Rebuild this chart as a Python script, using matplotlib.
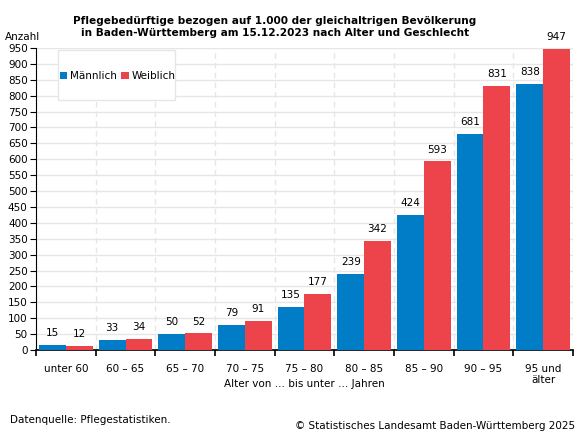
import matplotlib.pyplot as plt
from matplotlib.patches import Rectangle
import numpy as np

# Pflegebeduerftige je 1.000 der gleichaltrigen Bevoelkerung
categories = ['unter 60', '60 – 65', '65 – 70', '70 – 75', '75 – 80',
              '80 – 85', '85 – 90', '90 – 95', '95 und\nälter']
maennlich = [15, 33, 50, 79, 135, 239, 424, 681, 838]
weiblich = [12, 34, 52, 91, 177, 342, 593, 831, 947]

blue = '#007DC6'
red = '#EC444A'

plt.rcParams['font.family'] = ['DejaVu Sans']
plt.rcParams['font.size'] = 7.5

W, H = 581, 432
fig = plt.figure(figsize=(W / 100, H / 100), dpi=100)
ax = fig.add_axes([36 / W, (H - 350) / H, (573 - 36) / W, (350 - 48) / H])

x = np.arange(len(categories))
w = 0.45
b1 = ax.bar(x - w / 2, maennlich, w, color=blue, label='Männlich', zorder=3)
b2 = ax.bar(x + w / 2, weiblich, w, color=red, label='Weiblich', zorder=3)

for bars, vals in ((b1, maennlich), (b2, weiblich)):
    for rect, v in zip(bars, vals):
        ax.annotate(str(v), (rect.get_x() + rect.get_width() / 2, v),
                    xytext=(0, 5), textcoords='offset points',
                    ha='center', va='bottom', fontsize=7.5)

ax.set_xlim(-0.5, len(categories) - 0.5)
ax.set_ylim(0, 950)
ax.set_yticks(range(0, 951, 50))
ax.set_xticks(x)
ax.set_xticklabels(categories, linespacing=1.1)
ax.set_xticks(np.arange(-0.5, len(categories), 1), minor=True)
ax.tick_params(axis='x', which='major', length=0, pad=10)
ax.tick_params(axis='x', which='minor', length=4, width=1.2, direction='out')
ax.tick_params(axis='y', length=4, pad=2)

ax.grid(axis='y', color='#e6e6e6', linewidth=1, zorder=0)
ax.grid(axis='x', which='minor', color='#e6e6e6', linewidth=1, linestyle=(0, (4, 3)), zorder=0)
ax.spines['top'].set_visible(False)
ax.spines['right'].set_visible(False)
ax.spines['bottom'].set_linewidth(1.2)

ax.set_xlabel('Alter von … bis unter … Jahren', va='center')
ax.xaxis.set_label_coords(0.5, -(384 - 350) / (350 - 48))

# legend box
ax.add_patch(Rectangle((58 / W, 1 - 100 / H), (175 - 58) / W, 50 / H,
                       transform=fig.transFigure, facecolor='white',
                       edgecolor='#e6e6e6', linewidth=1, zorder=4, clip_on=False))
leg = ax.legend(loc='center left', bbox_to_anchor=(60 / W, 1 - 76 / H),
                bbox_transform=fig.transFigure, ncol=2, frameon=False,
                handlelength=0.7, handleheight=0.7, handletextpad=0.25,
                columnspacing=0.45, borderpad=0, borderaxespad=0)
leg.set_zorder(6)

fig.text(275 / W, 1 - 27 / H, 'Pflegebedürftige bezogen auf 1.000 der gleichaltrigen Bevölkerung\n'
         'in Baden-Württemberg am 15.12.2023 nach Alter und Geschlecht',
         ha='center', va='center', fontsize=7.6, fontweight='bold', linespacing=1.3)
fig.text(5 / W, 1 - 37 / H, 'Anzahl', ha='left', va='center')
fig.text(10 / W, 1 - 420 / H, 'Datenquelle: Pflegestatistiken.', ha='left', va='center')
fig.text(575 / W, 1 - 426 / H, '© Statistisches Landesamt Baden-Württemberg 2025',
         ha='right', va='center')

fig.savefig('out.png', dpi=100)
